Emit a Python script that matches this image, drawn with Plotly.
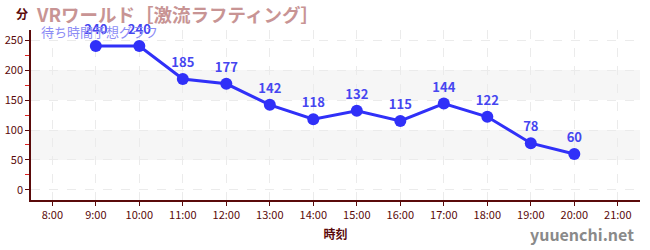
import plotly.graph_objects as go

hours = [9, 10, 11, 12, 13, 14, 15, 16, 17, 18, 19, 20]
waits = [240, 240, 185, 177, 142, 118, 132, 115, 144, 122, 78, 60]
tick_hours = list(range(8, 22))
tick_labels = [f"{h}:00" for h in tick_hours]
y_ticks = [0, 50, 100, 150, 200, 250]

FONT = "Noto Sans CJK JP"
AXIS = "#5a0a0a"
LINE = "#3030f8"

W, H = 650, 250
l, r, t, b = 31, 10, 30, 50

fig = go.Figure()
fig.add_trace(go.Scatter(
    x=hours, y=waits, mode="lines+markers+text",
    text=[str(v) for v in waits], textposition="top center",
    textfont=dict(family=FONT, size=13, color="#4646f0", weight="bold"),
    line=dict(color=LINE, width=3),
    marker=dict(size=12, color=LINE),
    cliponaxis=False, hoverinfo="skip"))

shapes = []
for lo, hi in [(50, 100), (150, 200)]:
    shapes.append(dict(type="rect", xref="paper", yref="y", x0=0, x1=1, y0=lo, y1=hi,
                       fillcolor="#f6f6f6", line=dict(width=0), layer="below"))

fig.update_layout(
    width=W, height=H,
    margin=dict(l=l, r=r, t=t, b=b),
    paper_bgcolor="white", plot_bgcolor="white",
    showlegend=False, shapes=shapes,
    font=dict(family=FONT, color=AXIS),
    xaxis=dict(range=[7.51, 21.51], tickvals=tick_hours, ticktext=tick_labels,
               tickfont=dict(size=11, color=AXIS), ticks="outside", ticklen=4, tickcolor=AXIS,
               showline=True, linecolor=AXIS, linewidth=1.5, automargin=False,
               showgrid=True, gridcolor="#ebebeb", griddash="dash", gridwidth=1,
               zeroline=False,
               title=dict(text="<b>時刻</b>", font=dict(size=12, color=AXIS), standoff=10)),
    yaxis=dict(range=[-16.7, 266.7], tickvals=y_ticks,
               tickfont=dict(size=11, color=AXIS), ticks="outside", ticklen=4, tickcolor=AXIS,
               showline=True, linecolor=AXIS, linewidth=1.5, automargin=False,
               showgrid=True, gridcolor="#ebebeb", griddash="dash", gridwidth=1,
               zeroline=False,
               minor=dict(tickvals=[25, 75, 125, 175, 225], ticks="outside", ticklen=4,
                          tickcolor="#dd2222", showgrid=False)),
)

# annotations positioned in pixels, converted to paper coordinates
pw, ph = W - l - r, H - t - b
def px(x, y):
    return (x - l) / pw, 1 - (y - t) / ph

ann_specs = [
    ("<b>分</b>", 14, 14, "left", 12, AXIS),
    ("<b>VRワールド［激流ラフティング］</b>", 34, 14, "left", 18.5, "#c89494"),
    ("待ち時間予想グラフ", 39, 32, "left", 13, "#8c8cf5"),
    ("<b>yuuenchi.net</b>", 636, 234, "right", 16, "#8a8a8a"),
]
anns = []
for text, x, y, xa, size, color in ann_specs:
    ax, ay = px(x, y)
    anns.append(dict(text=text, x=ax, y=ay, xref="paper", yref="paper", showarrow=False,
                     xanchor=xa, yanchor="middle", font=dict(size=size, color=color)))
fig.update_layout(annotations=anns)

fig.write_html("out.html")
